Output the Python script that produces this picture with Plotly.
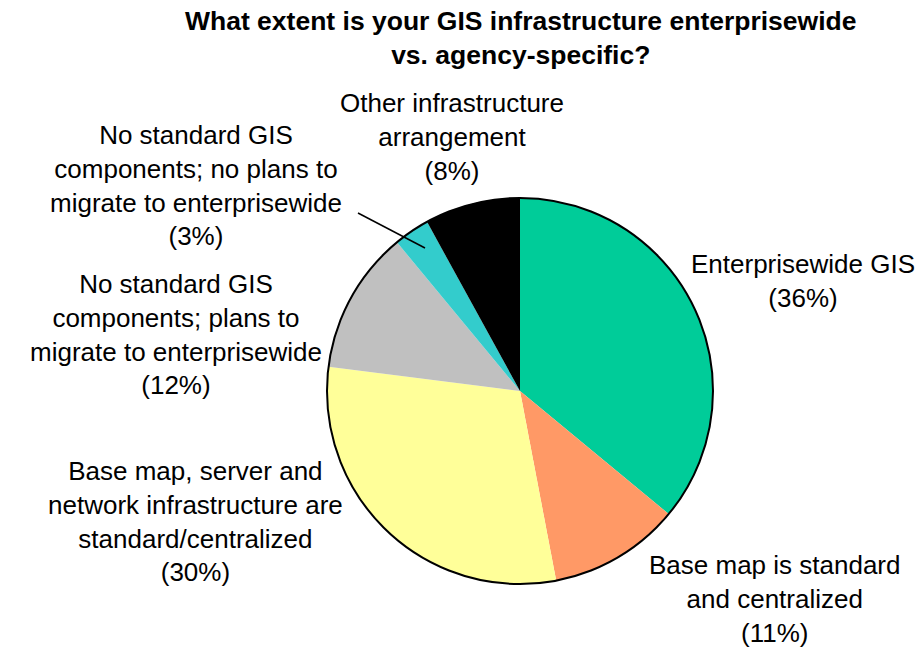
import plotly.graph_objects as go

W, H = 920, 648

# Survey shares, clockwise from 12 o'clock
categories = [
    "Enterprisewide GIS",
    "Base map is standard and centralized",
    "Base map, server and network infrastructure are standard/centralized",
    "No standard GIS components; plans to migrate to enterprisewide",
    "No standard GIS components; no plans to migrate to enterprisewide",
    "Other infrastructure arrangement",
]
shares = [36, 11, 30, 12, 3, 8]
colors = ["#00CC99", "#FF9966", "#FFFF99", "#C0C0C0", "#33CCCC", "#000000"]

# Label text broken into lines as printed
label_lines = [
    ["Enterprisewide GIS"],
    ["Base map is standard", "and centralized"],
    ["Base map, server and", "network infrastructure are", "standard/centralized"],
    ["No standard GIS", "components; plans to", "migrate to enterprisewide"],
    ["No standard GIS", "components; no plans to", "migrate to enterprisewide"],
    ["Other infrastructure", "arrangement"],
]
# label centres in pixels (x, y from top)
label_pos = [(803, 281), (774, 599), (195, 521), (176, 334), (196, 185), (452, 137)]

FONT = "Liberation Sans, Arial, sans-serif"

# pie placement in pixels
cx, cy, r = 520, 391, 193


def px(x):
    return x / W


def py(y):
    return 1 - y / H


fig = go.Figure(
    go.Pie(
        labels=categories,
        values=shares,
        sort=False,
        direction="clockwise",
        rotation=0,
        marker=dict(colors=colors, line=dict(width=0)),
        textinfo="none",
        hoverinfo="label+percent",
        domain=dict(x=[px(cx - r), px(cx + r)], y=[py(cy + r), py(cy - r)]),
        showlegend=False,
    )
)

annotations = []
for lines, val, (x, y) in zip(label_lines, shares, label_pos):
    text = "<br>".join(lines + [f"({val}%)"])
    annotations.append(
        dict(
            x=px(x), y=py(y), xref="paper", yref="paper",
            text=text, showarrow=False, xanchor="center", yanchor="middle",
            align="center", font=dict(family=FONT, size=26, color="#000000"),
        )
    )

annotations.append(
    dict(
        x=px(521), y=py(38), xref="paper", yref="paper",
        text="<b>What extent is your GIS infrastructure enterprisewide<br>vs. agency-specific?</b>",
        showarrow=False, xanchor="center", yanchor="middle", align="center",
        font=dict(family=FONT, size=26.5, color="#000000"),
    )
)

shapes = [
    # outline of the pie
    dict(type="circle", xref="paper", yref="paper",
         x0=px(cx - r), x1=px(cx + r), y0=py(cy + r), y1=py(cy - r),
         line=dict(color="#000000", width=2)),
    # leader line to the 3% slice
    dict(type="line", xref="paper", yref="paper",
         x0=px(358), y0=py(213), x1=px(425), y1=py(248),
         line=dict(color="#000000", width=1.5)),
]

fig.update_layout(
    width=W, height=H,
    margin=dict(l=0, r=0, t=0, b=0),
    paper_bgcolor="#FFFFFF",
    plot_bgcolor="#FFFFFF",
    annotations=annotations,
    shapes=shapes,
)

fig.write_html("out.html")
